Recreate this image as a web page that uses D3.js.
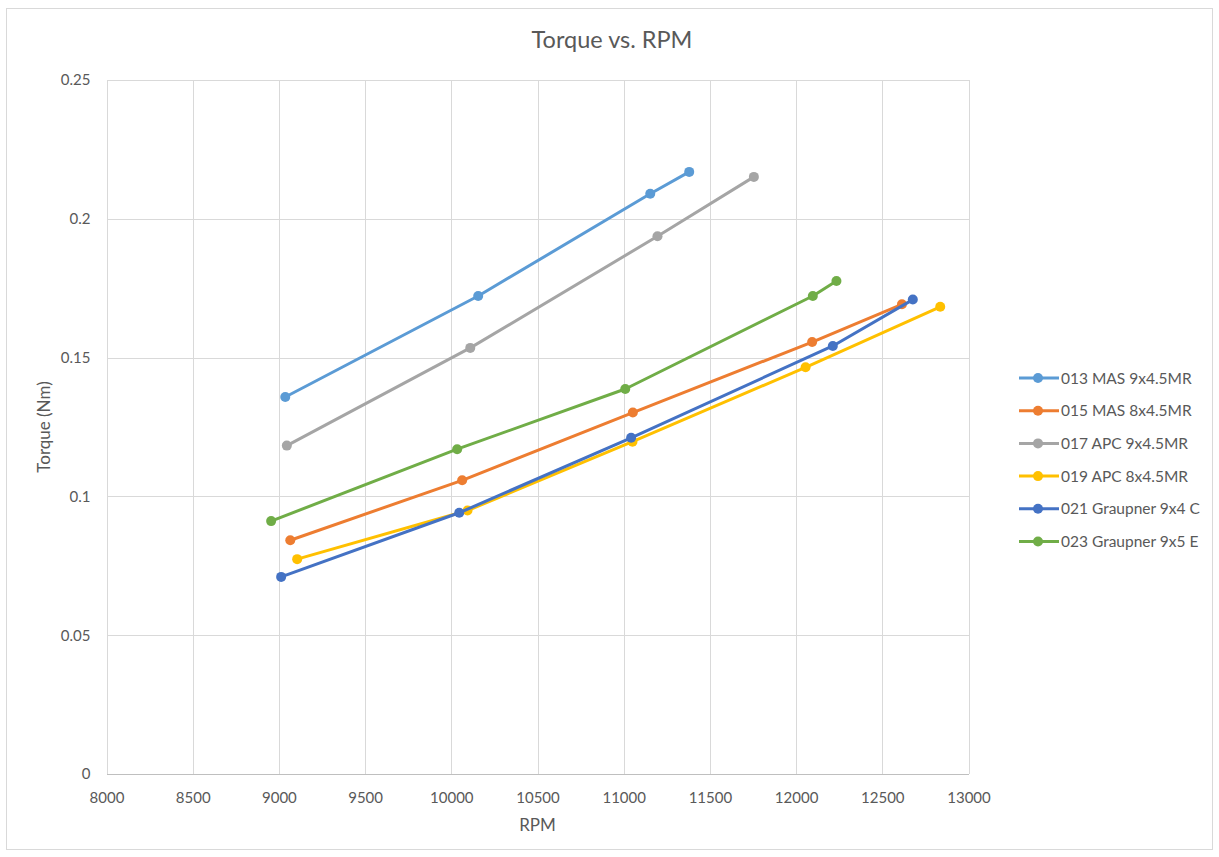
<!DOCTYPE html>
<html>
<head>
<meta charset="utf-8">
<script src="https://cdn.jsdelivr.net/npm/d3@7"></script>
<style>
  html, body { margin: 0; padding: 0; background: #fff; }
  svg { display: block; font-family: Lato, "Open Sans", sans-serif; }
</style>
</head>
<body>
<svg id="chart" width="1219" height="857"></svg>
<script>
// Torque vs. RPM measurements per propeller
const seriesNames = [
  "013 MAS 9x4.5MR",
  "015 MAS 8x4.5MR",
  "017 APC 9x4.5MR",
  "019 APC 8x4.5MR",
  "021 Graupner 9x4 C",
  "023 Graupner 9x5 E"
];
const seriesColors = ["#5B9BD5", "#ED7D31", "#A5A5A5", "#FFC000", "#4472C4", "#70AD47"];

const rpm013 = [9037, 10156, 11154, 11380];
const torque013 = [0.1358, 0.1722, 0.2090, 0.2169];

const rpm015 = [9066, 10063, 11053, 12093, 12614];
const torque015 = [0.0842, 0.1058, 0.1302, 0.1556, 0.1692];

const rpm017 = [9046, 10110, 11196, 11755];
const torque017 = [0.1183, 0.1535, 0.1937, 0.2151];

const rpm019 = [9106, 10094, 11051, 12055, 12836];
const torque019 = [0.0774, 0.0949, 0.1197, 0.1465, 0.1683];

const rpm021 = [9013, 10046, 11043, 12213, 12677];
const torque021 = [0.0710, 0.0941, 0.1211, 0.1542, 0.1709];

const rpm023 = [8955, 10034, 11009, 12097, 12234];
const torque023 = [0.0911, 0.1170, 0.1387, 0.1722, 0.1776];

const xTicks = [8000, 8500, 9000, 9500, 10000, 10500, 11000, 11500, 12000, 12500, 13000];
const yTicks = [0, 0.05, 0.1, 0.15, 0.2, 0.25];

const rpmSets = [rpm013, rpm015, rpm017, rpm019, rpm021, rpm023];
const torqueSets = [torque013, torque015, torque017, torque019, torque021, torque023];
const series = seriesNames.map((name, i) => ({
  name,
  color: seriesColors[i],
  points: rpmSets[i].map((r, j) => ({ rpm: r, torque: torqueSets[i][j] }))
}));

const svg = d3.select("#chart");
const W = 1219, H = 857;
const plot = { left: 106.5, right: 968.5, top: 80, bottom: 774 };
const textColor = "#595959";
const fontStack = "Lato, 'Open Sans', sans-serif";

// chart frame
svg.append("rect")
  .attr("x", 6.5).attr("y", 8.5)
  .attr("width", W - 13).attr("height", H - 16)
  .attr("fill", "#fff").attr("stroke", "#D9D9D9").attr("stroke-width", 1);

const x = d3.scaleLinear().domain([8000, 13000]).range([plot.left, plot.right]);
const y = d3.scaleLinear().domain([0, 0.25]).range([plot.bottom, plot.top]);

// vertical gridlines
svg.append("g")
  .attr("transform", `translate(0,${plot.bottom})`)
  .call(d3.axisBottom(x).tickValues(xTicks).tickSize(-(plot.bottom - plot.top)).tickFormat(""))
  .call(g => g.select(".domain").remove())
  .call(g => g.selectAll("line").attr("stroke", "#D9D9D9").attr("stroke-width", 1)
    .attr("shape-rendering", "crispEdges"));

// horizontal gridlines
svg.append("g")
  .attr("transform", `translate(${plot.left},0)`)
  .call(d3.axisLeft(y).tickValues(yTicks.filter(v => v > 0)).tickSize(-(plot.right - plot.left)).tickFormat(""))
  .call(g => g.select(".domain").remove())
  .call(g => g.selectAll("line").attr("stroke", "#D9D9D9").attr("stroke-width", 1)
    .attr("shape-rendering", "crispEdges"));

// x axis line and labels
svg.append("g")
  .attr("transform", `translate(0,${plot.bottom})`)
  .call(d3.axisBottom(x).tickValues(xTicks).tickSize(0).tickPadding(18).tickFormat(d3.format("d")))
  .call(g => g.select(".domain").attr("stroke", "#BFBFBF").attr("shape-rendering", "crispEdges"))
  .call(g => g.selectAll("text").attr("fill", textColor).attr("font-size", "15px")
    .attr("font-family", fontStack));

// y axis labels
svg.append("g")
  .attr("transform", `translate(${plot.left},0)`)
  .call(d3.axisLeft(y).tickValues(yTicks).tickSize(0).tickPadding(16).tickFormat(d => d === 0 ? "0" : String(d)))
  .call(g => g.select(".domain").remove())
  .call(g => g.selectAll("text").attr("fill", textColor).attr("font-size", "15px")
    .attr("font-family", fontStack));

// series lines and markers
const line = d3.line().x(d => x(d.rpm)).y(d => y(d.torque));
series.forEach(s => {
  svg.append("path")
    .datum(s.points)
    .attr("d", line)
    .attr("fill", "none")
    .attr("stroke", s.color)
    .attr("stroke-width", 3)
    .attr("stroke-linejoin", "round")
    .attr("stroke-linecap", "round");
  svg.append("g").selectAll("circle")
    .data(s.points)
    .join("circle")
    .attr("cx", d => x(d.rpm))
    .attr("cy", d => y(d.torque))
    .attr("r", 5)
    .attr("fill", s.color);
});

// title
svg.append("text")
  .attr("x", 612).attr("y", 48)
  .attr("text-anchor", "middle")
  .attr("fill", textColor)
  .attr("font-size", "23.5px")
  .text("Torque vs. RPM");

// axis titles
svg.append("text")
  .attr("x", plot.left + (plot.right - plot.left) / 2).attr("y", 831)
  .attr("text-anchor", "middle")
  .attr("fill", textColor)
  .attr("font-size", "17px")
  .text("RPM");

svg.append("text")
  .attr("transform", `translate(50,${(plot.top + plot.bottom) / 2}) rotate(-90)`)
  .attr("text-anchor", "middle")
  .attr("fill", textColor)
  .attr("font-size", "17px")
  .text("Torque (Nm)");

// legend
const legend = svg.append("g").attr("transform", "translate(1019,378)");
const row = legend.selectAll("g")
  .data(series)
  .join("g")
  .attr("transform", (d, i) => `translate(0,${i * 32.7})`);
row.append("line")
  .attr("x1", 0).attr("x2", 40).attr("y1", 0).attr("y2", 0)
  .attr("stroke", d => d.color).attr("stroke-width", 3);
row.append("circle")
  .attr("cx", 19).attr("cy", 0).attr("r", 5)
  .attr("fill", d => d.color);
row.append("text")
  .attr("x", 42).attr("y", 5.5)
  .attr("fill", textColor)
  .attr("font-size", "15.5px")
  .text(d => d.name);
</script>
</body>
</html>
